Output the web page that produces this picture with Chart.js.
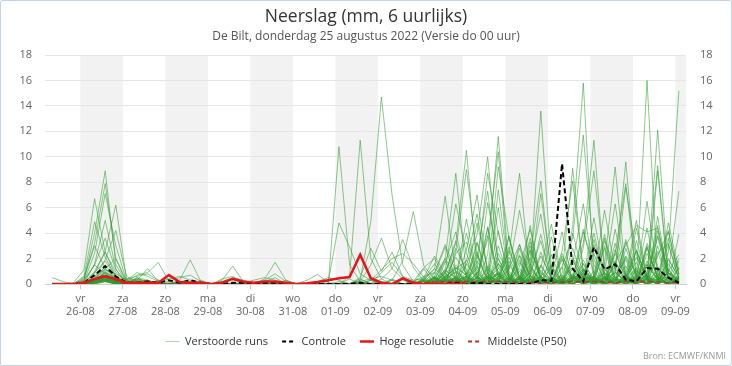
<!DOCTYPE html>
<html>
<head>
<meta charset="utf-8">
<script src="https://cdn.jsdelivr.net/npm/chart.js@4.4.1/dist/chart.umd.min.js"></script>
<style>
  html, body { margin: 0; padding: 0; background: #fff; }
  #wrap { position: relative; width: 732px; height: 366px; }
  #frame { position: absolute; left: 0; top: 0; width: 732px; height: 366px; box-sizing: border-box;
           border: 1px solid #c3d3e3; border-radius: 2px; pointer-events: none; }
</style>
</head>
<body>
<div id="wrap">
  <canvas id="chart" width="732" height="366"></canvas>
  <div id="frame"></div>
</div>
<script>
const FONT = '"Open Sans", "DejaVu Sans", sans-serif';

// x axis: days (tick at 00 local), values every 6 hours from 25-08 08:00
const dayNames = ['vr','za','zo','ma','di','wo','do','vr','za','zo','ma','di','wo','do','vr'];
const dayDates = ['26-08','27-08','28-08','29-08','30-08','31-08','01-09','02-09','03-09','04-09','05-09','06-09','07-09','08-09','09-09'];
const dayHours = [0,24,48,72,96,120,144,168,192,216,240,264,288,312,336];
const shadedDays = [0,48,96,144,192,240,288,336];
const firstHour = -16;
const stepHours = 6;

// controle run
const controle = [0,0,0, 0.1,0.7,1.4,0.6, 0.1,0.1,0.2,0.1, 0.3,0.1,0.3,0.1, 0,0,0.1,0.1, 0,0.1,0.1,0, 0,0,0,0, 0,0,0.1,0, 0,0,0,0, 0,0,0,0.1, 0,0.1,0,0, 0,0,0,0.3, 0.25,9.45,1.2,0.2, 2.9,1.15,1.55,0.35, 0.2,1.25,1.2,0.5, 0.1];
// hoge resolutie (tot 10 dagen)
const hogeRes = [0,0,0, 0.1,0.4,0.6,0.4, 0.1,0.1,0.1,0.1, 0.7,0.15,0.1,0.1, 0,0.1,0.4,0.2, 0.1,0.2,0.2,0.1, 0,0.05,0.15,0.3, 0.45,0.55,2.3,0.45, 0.1,0,0.45,0.1, 0,0,0,0, 0,null,null,null, null,null,null,null, null,null,null,null, null,null,null,null, null,null,null,null, null];
// middelste (P50)
const middelste = [0,0,0, 0,0.4,0.7,0.3, 0,0.1,0,0, 0,0,0,0, 0,0,0,0, 0,0,0,0, 0,0,0,0, 0,0,0,0, 0,0,0,0, 0.1,0.15,0.2,0.2, 0.2,0.15,0.2,0.2, 0.15,0.1,0.15,0.1, 0.1,0.15,0.2,0.15, 0.2,0.15,0.1,0.2, 0.15,0.2,0.15,0.1, 0.1];

// verstoorde runs
const r01 = [0.5,0.2,0, 0.3,4.0,8.9,1.5, 0.2,0.1,0,0, 0,0.1,0,0, 0,0,0,0, 0,0.1,0,0, 0,0,0,0, 0,0,0.2,0, 0,0.3,0,0, 0,0.2,1.1,0.4, 0,2.3,0.5,0, 1.2,3.1,0.4,0, 0,0.8,9.1,1.0, 0,0.3,2.4,0.6, 0,1.5,0.3,0, 0.2];
const r02 = [0,0,0, 0.5,3.2,7.9,2.0, 0.1,0.4,0.2,0, 0,0.3,1.9,0.2, 0,0,0,0, 0,0,0.2,0, 0,0,0,0, 0,0.4,0,0, 0,0,0.5,0.2, 0,0,0.6,2.1, 0.8,0,0.3,4.2, 0.5,0,1.1,0.3, 0,2.6,8.1,0.9, 0.4,0,1.8,0.2, 3.4,0.6,0,0.9, 0.3];
const r03 = [0,0,0, 0.2,2.4,7.1,3.0, 0.3,0.2,0,0, 0.1,0,0,0, 0,0.2,0,0, 0,0,0,0, 0,0,0,0, 0,0,0,0.3, 0,0,0,0, 0.2,0.9,0.3,0, 1.6,0.4,3.8,0.7, 0,0.2,0,0.6, 0,0.3,4.5,15.8, 0.6,0,0.4,2.2, 0.8,0,0.2,3.1, 0.4];
const r04 = [0,0,0.1, 1.1,6.7,2.5,0.6, 0,0.5,0.3,0, 0,0,0.2,0, 0,0,0.4,0, 0,0,0,0, 0,0,0,0, 0,0,0,0, 0.2,0,0,0, 0,0.4,1.8,0.3, 0,0,1.2,0.4, 2.6,0.5,0,0.2, 0,1.4,3.6,11.7, 1.9,0.4,0,0.7, 0,2.8,0.5,0, 0.6];
const r05 = [0,0,0, 0,0.8,2.6,6.2, 0.4,0.3,1.2,0.2, 0,0,0,0, 0,0,0,0, 0,0,0,0.3, 0,0,0,0, 0,0,0,0, 0,0,0,0, 0.3,1.2,0.5,0, 0.4,3.3,0.8,0, 0.2,0,2.7,0.9, 0.3,0,1.6,6.3, 0.5,3.9,0.4,0, 1.1,0.3,4.6,0.5, 0];
const r06 = [0,0,0, 0.6,4.9,2.1,0.5, 0.2,0,0,0.3, 0,0,0,0, 0,0,0,0.2, 0,0.4,1.7,0.3, 0,0,0,0, 0,0,0,0, 0,0,0,0, 0,0,0.4,1.5, 0.6,0,0,2.4, 0.7,0,0.4,0.2, 1.3,0,0.6,3.2, 11.3,0.8,0,0.3, 2.1,0.4,0,1.6, 0.3];
const r07 = [0,0,0, 0,1.6,5.0,1.2, 0,0.2,0,0, 0,0.2,0,0, 0,0,0,0, 0,0,0,0, 0,0,0,0, 0.2,0,0,0, 0,0,0,0, 0,0.2,0.9,0, 0.3,1.4,0,0.5, 3.7,0.4,0,1.1, 0,0.6,0.2,2.8, 8.9,1.3,0,0.5, 0,3.2,1.4,0.2, 0.5];
const r08 = [0,0,0, 0,0.5,1.9,4.2, 0.6,0.2,0,0, 0,0,0,0.3, 0,0,0,0, 0,0.2,0.5,0, 0,0,0,0, 0,0,0,0, 0,0,0.3,0, 0,0.6,0,0.3, 1.9,0.2,0,0.8, 0,2.3,0.7,0, 0.4,0,1.2,0.3, 0.6,5.8,1.0,0, 0.4,0,2.2,4.1, 0.8];
const r09 = [0,0,0, 0.2,1.5,3.6,1.1, 0.2,0.7,0.9,1.7, 0.2,0,0,0, 0,0,0,0, 0,0,0,0, 0,0,0,0, 0,0,0,0, 0,0,0,0, 0,0,0.7,0.2, 0,0,4.4,0.6, 0,0.3,0,1.5, 0.2,0,0.4,0.8, 0,1.6,9.2,0.7, 0,0.4,0.3,1.2, 0];
const r10 = [0,0,0, 0.4,3.0,1.2,0.4, 0,0.3,0.2,0, 0,0,0,0, 0,0.3,1.4,0.2, 0,0,0,0, 0,0,0,0, 0,0,0,0, 0,0,0,0, 0.2,0,0.5,1.3, 0,0.6,0,0.2, 1.5,0.3,3.0,0.4, 0,0.2,0.8,0, 0.4,0.9,6.3,0.5, 0,1.8,0.4,0, 1.3];
const r11 = [0,0,0, 0,1.0,2.5,0.9, 0.2,0.1,0,0, 0,0,0,0, 0,0,0,0, 0,0,0,0, 0,0.3,0.75,0.1, 0,0,0,0, 0,0,0,0, 0,0,0.3,0, 0.9,0.2,0,2.0, 0.5,0,0.3,0.6, 0,2.2,0.5,0, 0.3,0,1.1,9.6, 0.4,0,0.8,0.2, 0];
const r12 = [0,0,0, 0,0.4,1.2,2.0, 0.3,0,0,0, 0,0,0,0, 0,0,0,0, 0,0,0,0, 0,0,0,0, 10.8,1.5,0.2,0, 0,0.4,0,0, 0,0,0.4,0, 0,1.8,0.5,0, 0,0.4,0,1.4, 0.2,0.7,0,0.3, 0.6,0,2.4,7.9, 0.5,0,1.3,0.2, 0.4];
const r13 = [0,0,0, 0.1,0.9,1.8,0.6, 0,0.4,0.2,0, 0,0,0,0, 0,0,0,0, 0,0,0,0, 0,0,0,0.2, 4.8,2.9,0.8,0.3, 0,0,0,0, 0,0.3,0,0.5, 0,0,0.4,0.9, 0.3,0,0,0.6, 1.5,0.2,0,0.8, 0,0.4,0.9,7.6, 2.3,0.3,0,0.5, 0.2];
const r14 = [0,0,0, 0.3,1.5,0.8,0.2, 0,0,0.3,0, 0,0,0,0, 0,0,0,0, 0,0,0,0, 0,0,0,0, 0,0.6,11.3,2.0, 0.4,0,0,0, 0,0,0.2,0, 0.5,0,0.6,0.3, 0,1.7,0.4,0, 0.3,0,0.4,1.9, 0.2,0.6,0,0.7, 5.0,0.5,0.3,0, 0.4];
const r15 = [0,0,0, 0,0.6,1.2,0.5, 0.1,0,0,0, 0,0,0,0, 0,0,0,0, 0,0,0,0, 0,0,0,0, 0,0,0.3,4.9, 14.7,7.0,1.5,0.2, 0,0,0,0.2, 0,0.3,0,0, 0.6,0,0.4,0.2, 0,0.3,0,0.5, 0,0.2,0.9,0.3, 0.4,16.0,0.6,0, 0.3];
const r16 = [0,0,0, 0,0.3,0.9,0.4, 0,0.2,0,0, 0,0,0,0, 0,0,0,0, 0,0,0,0, 0,0,0,0, 0,0,0.5,2.8, 1.0,2.5,0.6,0, 0,0,0.3,0, 0,0.9,0,0.3, 0,0,1.3,0.2, 0.3,0,0.7,0, 0.4,0,0.3,1.4, 0.2,6.5,0.8,0, 0.5];
const r17 = [0,0,0, 0,0.2,0.7,0.3, 0,0,0.3,0, 0,0,0,0, 0,0,0,0, 0,0,0,0, 0,0,0,0, 0,0,0.2,1.5, 3.6,1.2,0.4,0, 0,0.5,0,0, 0.3,0,0.8,0, 0,0.5,0,0.2, 0,0.3,0,1.1, 0.3,0,0.5,0, 0.6,0.3,3.7,0.4, 0];
const r18 = [0,0,0, 0,0.3,0.5,0.2, 0,0,0,0, 0,0,0,0, 0,0,0,0, 0,0,0,0, 0,0,0,0, 0,0,0,0, 0.4,1.2,3.5,1.3, 0.2,0,0,0.5, 0,0,0.2,0.8, 0,0,0.4,0, 0.3,0,0,0.6, 0,0.4,0,0.3, 0,0.5,12.1,0.9, 0.4];
const r19 = [0,0,0, 0,0.1,0.4,0.2, 0,0,0,0, 0,0,0,0, 0,0,0,0, 0,0,0,0, 0,0,0,0, 0,0,0,0, 0,0.3,1.8,5.7, 1.4,0.4,0,0, 0.6,0,0,0.3, 0,1.0,0,0.4, 0,0,0.6,0.2, 0.4,0,0.3,0, 0,0.8,9.3,0.6, 0.2];
const r20 = [0,0,0, 0,0.2,0.6,0.1, 0,0,0,0, 0,0,0,0, 0,0,0,0, 0,0,0,0, 0,0,0,0, 0,0,0,0.3, 1.1,2.0,2.4,1.6, 0.5,0,0,0, 0.3,0,0.5,0, 0,0.2,0,0.9, 0,0.5,0,0.3, 0,0,0.4,0.2, 1.2,0,8.9,0.4, 0.6];
const r21 = [0,0,0, 0,0.1,0.3,0, 0,0,0,0, 0,0,0,0, 0,0,0,0, 0,0,0,0, 0,0,0,0, 0,0,0,0, 0,0,0,0, 0.4,1.2,6.9,0.8, 0,0.5,0,1.6, 0.3,0,0.9,0, 0.4,0,2.1,0.5, 0,0.6,0,0.3, 1.3,0.4,0,2.5, 15.2];
const r22 = [0,0,0, 0,0,0.2,0, 0,0,0,0, 0,0,0,0, 0,0,0,0, 0,0,0,0, 0,0,0,0, 0,0,0,0, 0,0,0,0.2, 0.6,0.9,3.1,1.0, 0.2,0,1.4,0.3, 0,2.8,0.4,0, 0.6,0,0.3,1.2, 0,0.4,0,0.2, 0.5,1.6,0.3,0.8, 7.3];
const r23 = [0,0,0, 0,0.2,0.4,0.1, 0,0,0,0, 0,0,0,0, 0,0,0,0, 0,0,0,0, 0,0,0,0, 0,0,0,0, 0,0,0,0, 0,0.6,2.0,8.7, 0.8,0,0.5,0, 0.3,1.9,0,0.4, 0.2,0,0.7,0.3, 4.0,0.5,0,0.2, 0.4,0,1.1,0, 0.3];
const r24 = [0,0,0, 0,0.3,0.8,0.2, 0,0,0,0, 0,0,0,0, 0,0,0,0, 0,0,0,0, 0,0,0,0, 0,0,0,0, 0,0,0,0, 0,0.3,1.1,6.3, 2.4,0.3,0,0.6, 0,0.2,1.6,0, 0.5,0,0.3,0, 1.0,0,4.3,0.5, 0,0.4,0,0.9, 0.2];
const r25 = [0,0,0, 0,0.1,0.5,0.2, 0,0,0,0, 0,0,0,0, 0,0,0,0, 0,0,0,0, 0,0,0,0, 0,0,0,0, 0,0,0,0, 0.2,0,0.9,3.2, 10.5,1.1,0,0.4, 0,0.6,0,0.3, 0,1.3,0.4,0, 0.6,0,2.7,0.3, 0,0.8,0.2,0, 0.4];
const r26 = [0,0,0, 0,0.2,0.3,0, 0,0,0,0, 0,0,0,0, 0,0,0,0, 0,0,0,0, 0,0,0,0, 0,0,0,0, 0,0,0,0, 0,0.4,0,2.6, 9.0,2.2,0.3,0, 0.5,0,0.9,3.4, 0.3,0,0,0.6, 0.2,3.0,0.4,0, 0,0.5,0,1.9, 0.6];
const r27 = [0,0,0, 0,0,0.4,0.1, 0,0,0,0, 0,0,0,0, 0,0,0,0, 0,0,0,0, 0,0,0,0, 0,0,0,0, 0,0,0,0, 0,0,0.6,1.2, 1.8,5.5,0.9,0, 0.4,0,2.0,0.6, 0,0.3,0,0.7, 0.4,0,0.2,3.3, 0.5,0,0.4,0, 1.8];
const r28 = [0,0,0, 0,0.2,0.6,0.3, 0,0,0,0, 0,0,0,0, 0,0,0,0, 0,0,0,0, 0,0,0,0, 0,0,0,0, 0,0,0,0, 0,0.3,0.2,0, 1.5,3.9,10.0,1.3, 0,0.5,0,0.3, 0.4,0,1.9,0.2, 0,0.6,0,0.4, 2.6,0.3,0,0.5, 0];
const r29 = [0,0,0, 0,0.1,0.2,0, 0,0,0,0, 0,0,0,0, 0,0,0,0, 0,0,0,0, 0,0,0,0, 0,0,0,0, 0,0,0,0, 0.3,0,0.5,0.9, 0.3,1.2,8.7,4.0, 0.6,0,0.3,0, 1.4,0.2,0,0.6, 0.3,0,0.9,0.2, 0,1.5,0.4,0, 0.3];
const r30 = [0,0,0, 0,0.3,0.5,0.2, 0,0,0,0, 0,0,0,0, 0,0,0,0, 0,0,0,0, 0,0,0,0, 0,0,0,0, 0,0,0,0, 0,0.2,0.8,0.3, 0,2.1,7.3,0.6, 0,0.4,0,2.5, 0.3,0,0.5,0, 0.2,0.9,0,0.3, 0.6,0,3.0,0.4, 0];
const r31 = [0,0,0, 0,0.2,0.4,0.1, 0,0,0,0, 0,0,0,0, 0,0,0,0, 0,0,0,0, 0,0,0,0, 0,0,0,0, 0,0,0,0, 0,0,0.4,0.2, 0.6,0,2.3,11.6, 1.0,0,0.3,0, 0.5,0.2,0,1.1, 0.4,0,0.6,0, 0.3,0.7,0,2.0, 0.5];
const r32 = [0,0,0, 0,0.1,0.3,0.2, 0,0,0,0, 0,0,0,0, 0,0,0,0, 0,0,0,0, 0,0,0,0, 0,0,0,0, 0,0,0,0, 0,0.5,0,0.3, 0,0.8,3.5,10.4, 0.4,0,0.6,0.3, 0,0.4,1.3,0, 0.5,0,0.2,0.6, 0,0.3,4.2,0.4, 0.2];
const r33 = [0,0,0, 0,0.4,0.6,0.2, 0,0,0,0, 0,0,0,0, 0,0,0,0, 0,0,0,0, 0,0,0,0, 0,0,0,0, 0,0,0,0, 0,0,0.3,1.0, 0.4,0,0.8,9.2, 3.6,0.3,0,0.5, 0.2,0,0.4,1.6, 0,0.5,0,0.2, 0.7,0,0.3,0.9, 0];
const r34 = [0,0,0, 0,0.2,0.3,0, 0,0,0,0, 0,0,0,0, 0,0,0,0, 0,0,0,0, 0,0,0,0, 0,0,0,0, 0,0,0,0, 0,0.2,0,0.6, 0.3,0,0.4,1.2, 2.3,8.7,0.6,0, 0.3,0,0.5,0.2, 0,1.2,0,0.4, 0.3,0,0.6,0, 0.4];
const r35 = [0,0,0, 0,0,0.2,0.1, 0,0,0,0, 0,0,0,0, 0,0,0,0, 0,0,0,0, 0,0,0,0, 0,0,0,0, 0,0,0,0, 0.2,0,0.6,0.2, 0,0.9,0,0.4, 1.1,5.8,1.4,0.3, 0,0.4,0,0.6, 0.3,0,0.2,0, 1.0,0.4,0,0.3, 0];
const r36 = [0,0,0, 0,0.3,0.4,0.1, 0,0,0,0, 0,0,0,0, 0,0,0,0, 0,0,0,0, 0,0,0,0, 0,0,0,0, 0,0,0,0, 0,0.4,0,0.3, 0.6,0,0.2,0.9, 0,1.4,4.3,0.5, 0,0.3,0,0.4, 0.2,0,1.8,3.0, 4.6,4.1,4.4,0.8, 0.3];
const r37 = [0,0,0, 0,0.1,0.3,0, 0,0,0,0, 0,0,0,0, 0,0,0,0, 0,0,0,0, 0,0,0,0, 0,0,0,0, 0,0,0,0, 0,0,0.2,0.5, 0,0.3,0.6,0, 0.4,0,1.0,13.6, 1.2,0,0.3,0, 0.5,0.2,0,0.6, 0.3,0,0.4,1.1, 0.2];
const r38 = [0,0,0, 0,0.2,0.4,0.2, 0,0,0,0, 0,0,0,0, 0,0,0,0, 0,0,0,0, 0,0,0,0, 0,0,0,0, 0,0,0,0, 0,0.5,0,0.2, 0.6,0,0.3,0.8, 0,0.4,2.1,8.1, 0.6,0,0.3,1.2, 0,0.4,0,0.3, 0,2.4,0.6,0, 0.5];
const r39 = [0,0,0, 0,0.3,0.5,0.1, 0,0,0,0, 0,0,0,0, 0,0,0,0, 0,0,0,0, 0,0,0,0, 0,0,0,0, 0,0,0,0, 0,0,0.4,0.3, 0,0.2,0.5,1.6, 0.3,0,0.6,7.1, 0.9,0.2,0,0.4, 0,0.9,0.3,0, 0.4,0,0.2,0.6, 0];
const r40 = [0,0,0, 0,0.1,0.2,0, 0,0,0,0, 0,0,0,0, 0,0,0,0, 0,0,0,0, 0,0,0,0, 0,0,0,0, 0,0,0,0, 0.3,0,0.2,0.4, 0,0.5,0,0.3, 0.8,0,1.5,5.5, 0.3,0,0.6,0, 0.2,0.5,0,0.3, 0,0.7,0,0.4, 0.3];
const r41 = [0,0,0, 0,0.2,0.9,0.3, 0,0.3,0,0, 0,0,0,0, 0,0,0,0, 0,0,0,0, 0,0,0,0, 0,0,0,0, 0,0,0,0, 0.5,2.2,0.8,3.4, 0.6,4.8,1.2,0, 2.9,0.4,3.6,0.5, 0,2.4,0.3,4.1, 1.5,0,3.2,0.6, 2.7,0.4,3.8,1.0, 2.3];
const r42 = [0,0,0, 0,0.4,1.4,0.6, 0,0,0.2,0, 0,0,0,0, 0,0,0,0, 0,0,0,0, 0,0,0,0, 0,0,0,0, 0,0,0,0, 0,0.8,2.9,0.4, 5.1,0.6,0,3.0, 0.4,2.2,0,1.3, 4.7,0.3,1.9,0, 3.5,0.6,0,2.8, 0.5,4.4,0.3,3.6, 0.8];
const r43 = [0,0,0, 0,0.3,1.0,0.4, 0,0.5,0,0, 0,0,0,0, 0,0,0,0, 0,0,0,0, 0,0,0,0, 0,0,0,0, 0,0,0,0, 1.2,0,1.7,4.1, 0.5,0,6.4,2.0, 0,3.1,0.6,0, 2.3,0,4.0,0.7, 0,3.4,1.2,0, 2.6,0.5,0,4.8, 1.1];
const r44 = [0,0,0, 0,0.1,0.6,0.2, 0,0,0,0, 0,0,0,0, 0,0,0,0, 0,0,0,0, 0,0,0,0, 0,0,0,0, 0,0,0,0, 0,0.6,0,2.4, 3.3,0.4,4.5,0.2, 1.8,0,0.5,3.9, 0.3,2.0,0,0.4, 5.2,0.6,0,2.1, 0.3,3.0,0.4,0, 3.9];
const r45 = [0,0,0, 0,0.2,0.4,0.2, 0,0,0,0, 0,0,0,0, 0,0,0,0, 0,0,0,0, 0,0,0,0, 0,0,0,0, 0,0,0,0, 0.4,1.6,0.3,0, 2.7,7.0,0.8,0, 3.8,0.6,0,2.2, 0.5,4.1,0,0.9, 2.4,0,1.7,0.3, 4.4,0.5,2.6,0, 1.2];
const r46 = [0,0,0, 0,0.3,0.7,0.2, 0,0,0,0, 0,0,0,0, 0,0,0,0, 0,0,0,0, 0,0,0,0, 0,0,0,0, 0,0,0,0, 0,0.3,2.0,0.6, 0,3.2,0.5,6.0, 0.4,0,2.6,0.5, 3.7,0.2,0,1.6, 0.4,2.8,0,3.5, 0.6,0,5.3,0.4, 2.0];
const r47 = [0,0,0, 0,0.2,0.5,0.1, 0,0,0,0, 0,0,0,0, 0,0,0,0, 0,0,0,0, 0,0,0,0, 0,0,0,0, 0,0,0,0, 0.3,0,1.1,0.5, 4.0,0.6,0,7.4, 0.8,0,3.3,0.2, 0,1.9,0.4,4.3, 0.6,3.6,0,0.5, 1.7,0,2.4,3.2, 0.4];
const r48 = [0,0,0, 0,0.1,0.3,0.1, 0,0,0,0, 0,0,0,0, 0,0,0,0, 0,0,0,0, 0,0,0,0, 0,0,0,0, 0,0,0,0, 0,0.5,0,1.3, 0.7,2.5,0,0.6, 2.1,0.3,4.6,0, 0.5,0,2.8,0.3, 3.1,0,0.7,1.9, 0,2.9,0.5,4.2, 0.7];
const r49 = [0,0,0, 0,0.4,1.1,0.8, 0.3,0.9,0.6,0.2, 0.4,0.6,0.3,0, 0,0.2,0.5,0.3, 0,0.3,0.8,0.2, 0,0,0,0, 0,0,0.4,0, 0.9,1.7,0.6,0.3, 0.4,0,0.9,2.8, 1.1,0,0.5,0, 0.3,1.2,0,0.6, 0,0.4,0.2,0.9, 0,0.3,1.4,0.2, 0.5,0,0.3,0.6, 0.2];
const r50 = [0,0,0, 0,0.2,0.9,0.5, 0.4,0.6,0.8,0.3, 0.2,0.5,0.7,0.2, 0,0.4,0.6,0.1, 0.3,0.5,0.3,0, 0,0,0.2,0.5, 0.3,0,0.2,0.4, 0.6,0.3,0,0.2, 1.3,2.0,0.4,0, 0.5,0.3,0,1.0, 0,0.6,0.2,0, 0.4,0,0.5,0.3, 0.2,0.8,0,0.4, 0.3,0.2,0.6,0, 0.1];

const runs = [r01,r02,r03,r04,r05,r06,r07,r08,r09,r10,r11,r12,r13,r14,r15,r16,r17,r18,r19,r20,
              r21,r22,r23,r24,r25,r26,r27,r28,r29,r30,r31,r32,r33,r34,r35,r36,r37,r38,r39,r40,
              r41,r42,r43,r44,r45,r46,r47,r48,r49,r50];

const hours = controle.map((_, i) => firstHour + i * stepHours);

const runColor = 'rgba(45,155,45,0.55)';
const datasets = runs.map(r => ({
  label: 'Verstoorde runs', data: r, borderColor: runColor, borderWidth: 1,
  pointRadius: 0, tension: 0, order: 3
}));
datasets.push({ label: 'Controle', data: controle, borderColor: '#000', borderWidth: 2, borderDash: [5, 3], pointRadius: 0, order: 1 });
datasets.push({ label: 'Hoge resolutie', data: hogeRes, borderColor: '#e8141b', borderWidth: 2.5, pointRadius: 0, order: 0 });
datasets.push({ label: 'Middelste (P50)', data: middelste, borderColor: '#b5322a', borderWidth: 1.5, borderDash: [5, 3], pointRadius: 0, order: 2 });

const legendItems = [
  { text: 'Verstoorde runs', strokeStyle: '#a9d6a9', lineWidth: 1, lineDash: [] },
  { text: 'Controle', strokeStyle: '#000', lineWidth: 2, lineDash: [4, 3] },
  { text: 'Hoge resolutie', strokeStyle: '#e8141b', lineWidth: 2.5, lineDash: [] },
  { text: 'Middelste (P50)', strokeStyle: '#b5322a', lineWidth: 2, lineDash: [4, 3] }
];

const bands = {
  id: 'bands',
  beforeDraw(chart) {
    const { ctx, chartArea: a, scales: { x } } = chart;
    ctx.save();
    ctx.fillStyle = '#f2f2f2';
    shadedDays.forEach(h => {
      const x0 = Math.max(x.getPixelForValue(h), a.left);
      const x1 = Math.min(x.getPixelForValue(h + 24), a.right);
      ctx.fillRect(x0, a.top, x1 - x0, a.bottom - a.top);
    });
    ctx.restore();
  }
};

const credit = {
  id: 'credit',
  afterDraw(chart) {
    const ctx = chart.ctx;
    ctx.save();
    ctx.font = '9px ' + FONT;
    ctx.fillStyle = '#999';
    ctx.textAlign = 'right';
    ctx.textBaseline = 'middle';
    ctx.fillText('Bron: ECMWF/KNMI', 726, 356);
    ctx.restore();
  }
};

const tickFont = { family: FONT, size: 11 };

new Chart(document.getElementById('chart'), {
  type: 'line',
  data: { labels: hours, datasets: datasets },
  plugins: [bands, credit],
  options: {
    responsive: false,
    animation: false,
    layout: { padding: { left: 0, right: 0, top: 0, bottom: 9 } },
    plugins: {
      title: { display: true, text: 'Neerslag (mm, 6 uurlijks)', color: '#333',
               font: { family: FONT, size: 17.5, weight: 'normal' }, padding: { top: 6.5, bottom: 1 } },
      subtitle: { display: true, text: 'De Bilt, donderdag 25 augustus 2022 (Versie do 00 uur)', color: '#555',
                  font: { family: FONT, size: 12 }, padding: { top: 1.3, bottom: 10.8 } },
      legend: {
        position: 'bottom',
        labels: {
          usePointStyle: true, pointStyleWidth: 14, color: '#333',
          font: { family: FONT, size: 11 }, padding: 14,
          generateLabels: () => legendItems.map((it, i) => ({
            text: it.text, strokeStyle: it.strokeStyle, fillStyle: it.strokeStyle, lineWidth: it.lineWidth,
            lineDash: it.lineDash, pointStyle: 'line', hidden: false, datasetIndex: i, fontColor: '#333'
          }))
        }
      },
      tooltip: { enabled: false }
    },
    scales: {
      x: {
        type: 'linear', min: -20, max: 342,
        afterBuildTicks: s => { s.ticks = dayHours.map(v => ({ value: v })); },
        afterFit: s => { s.height = 38; },
        grid: { drawOnChartArea: false, drawTicks: true, tickLength: 5, color: '#c8c8c8' },
        border: { display: true, color: '#d0d0d0' },
        ticks: {
          autoSkip: false, maxRotation: 0, padding: 3, color: '#666', font: tickFont,
          callback: v => { const k = dayHours.indexOf(v); return k < 0 ? '' : [dayNames[k], dayDates[k]]; }
        }
      },
      y: {
        position: 'left', min: 0, max: 18,
        afterFit: s => { s.width = 45; },
        ticks: { stepSize: 2, padding: 13, color: '#666', font: tickFont },
        grid: { color: '#e6e6e6', drawTicks: false },
        border: { display: false }
      },
      y2: {
        position: 'right', min: 0, max: 18,
        afterFit: s => { s.width = 46; },
        ticks: { stepSize: 2, padding: 14, color: '#666', font: tickFont },
        grid: { display: false, drawTicks: false },
        border: { display: false }
      }
    }
  }
});
</script>
</body>
</html>
